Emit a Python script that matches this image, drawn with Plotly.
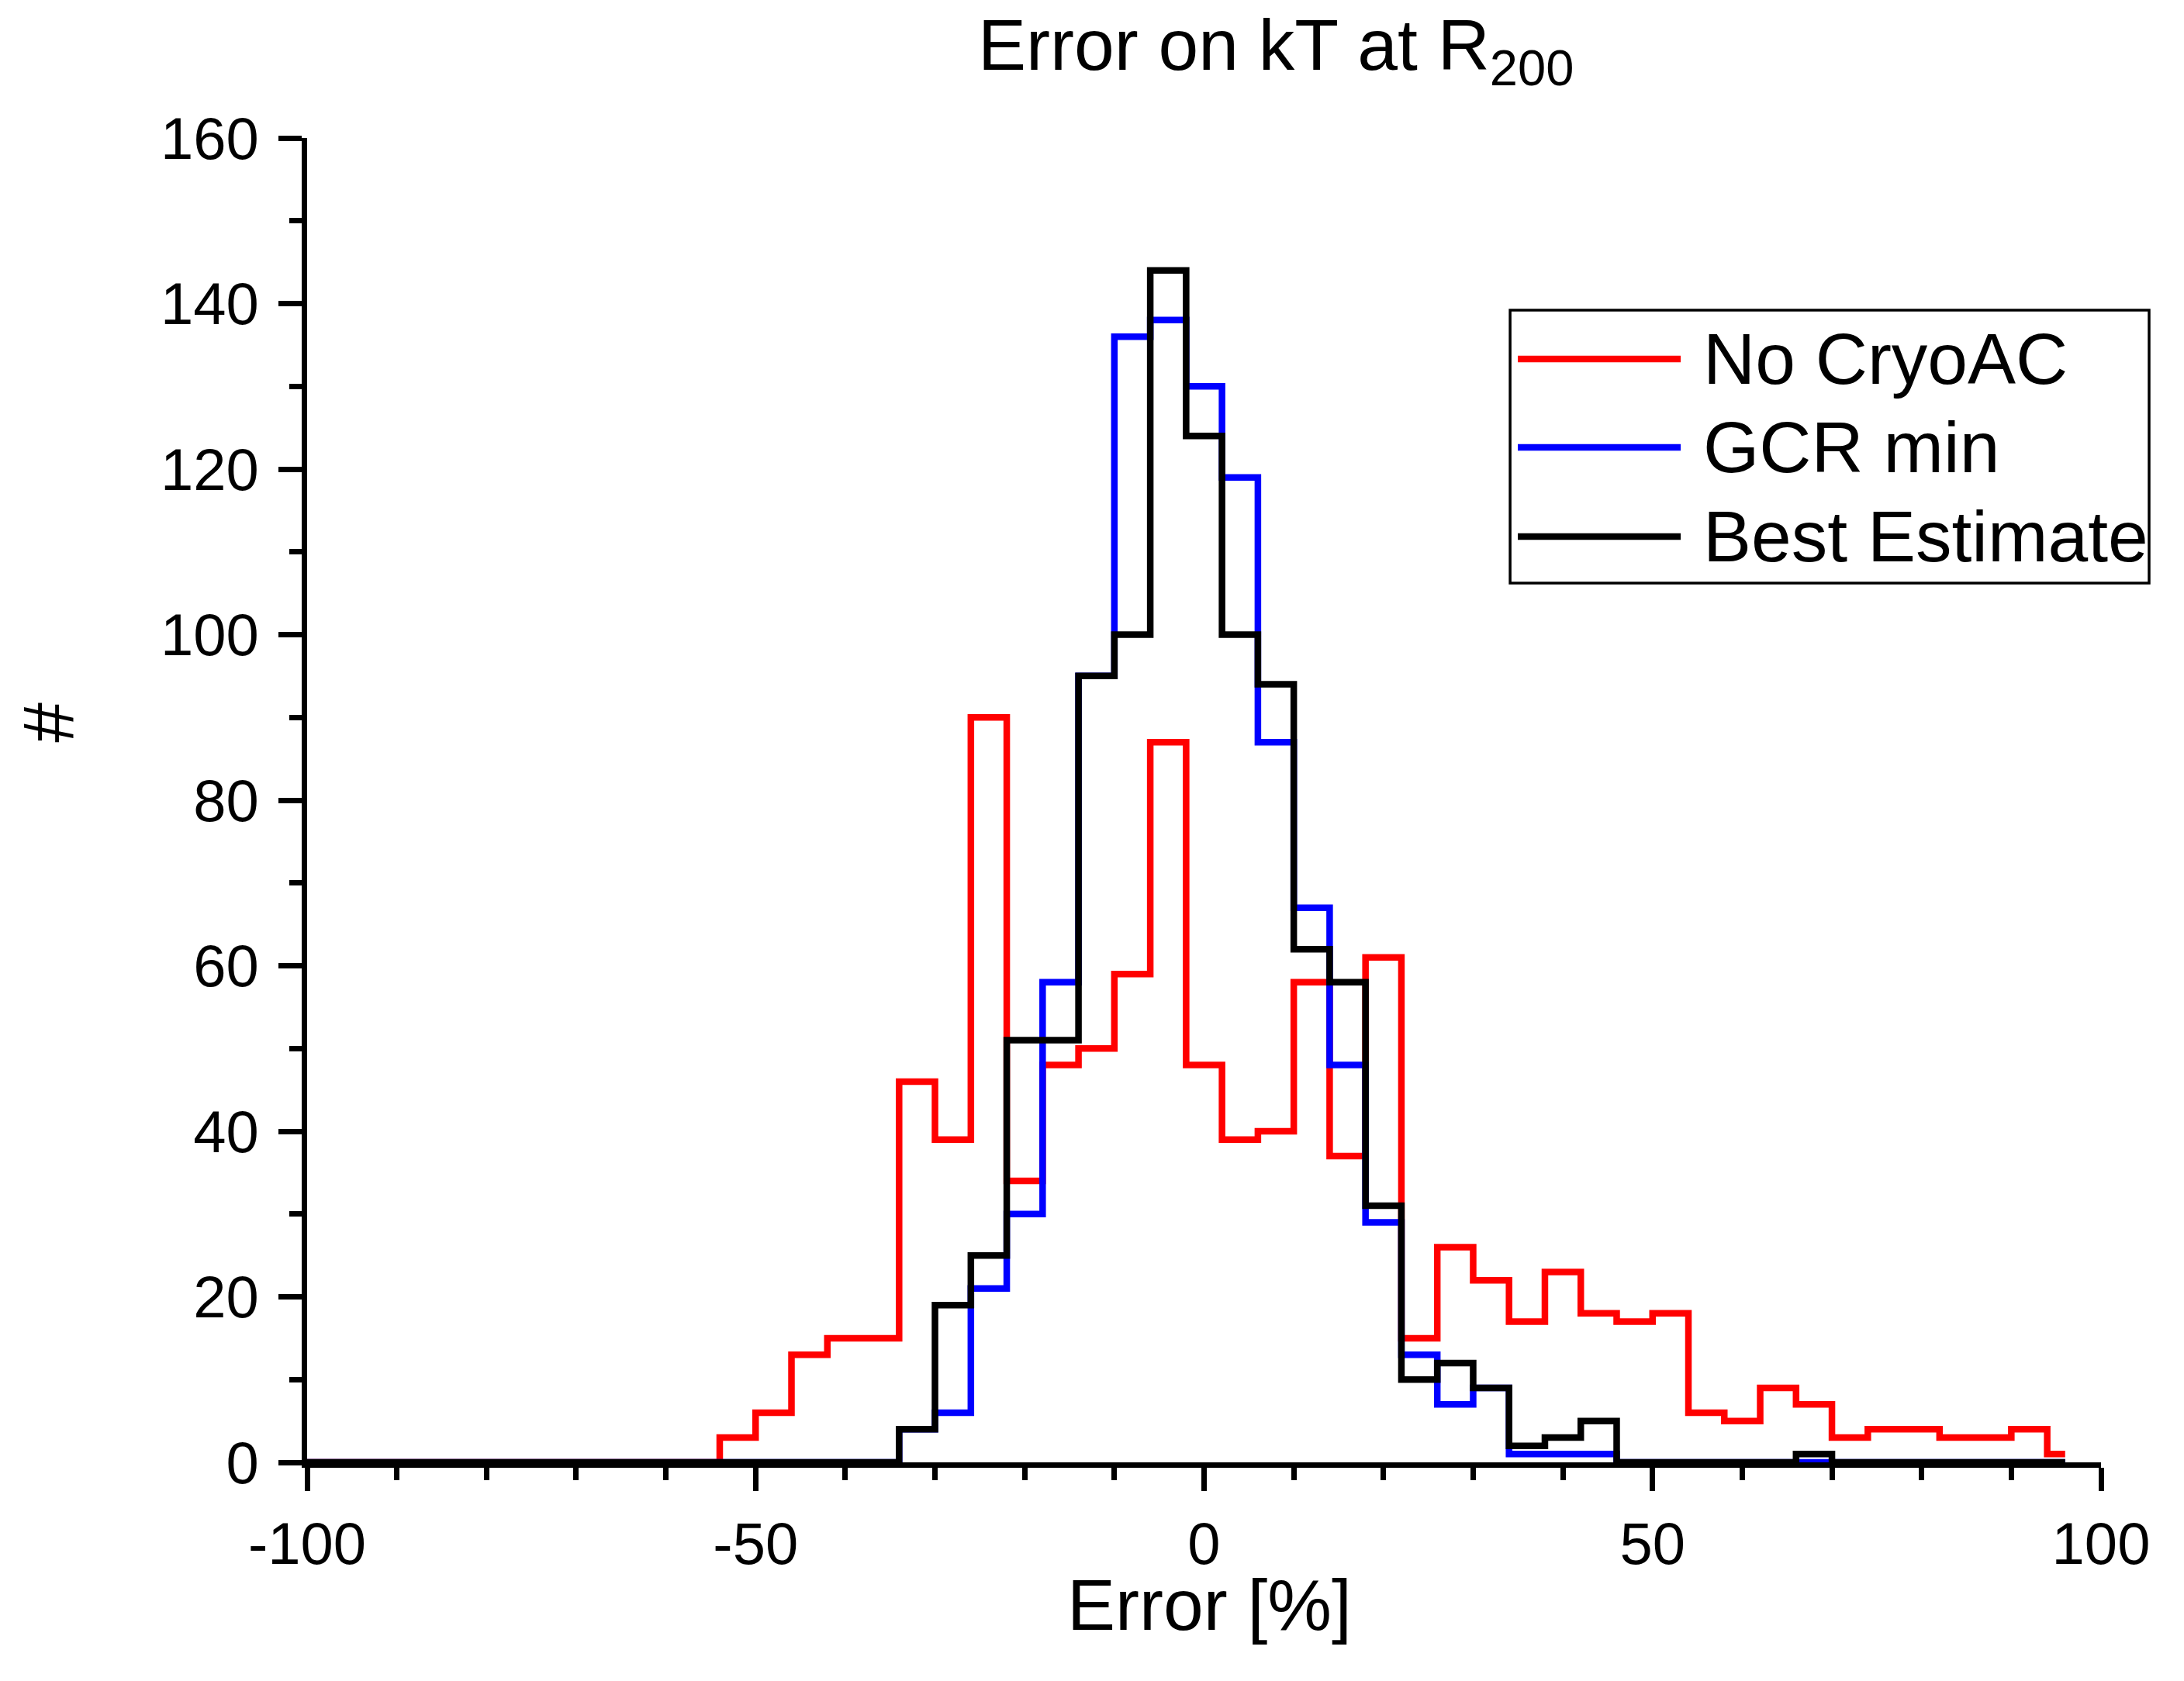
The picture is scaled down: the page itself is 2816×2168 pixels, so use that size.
import plotly.graph_objects as go

# histogram bin centres (bin width 4 %)
centres = list(range(-100, 100, 4))

# counts per bin
no_cryoac = [0] * 12 + [3, 6, 13, 15, 15, 46, 39, 90, 34, 48, 50, 59, 87, 48, 39, 40,
                        58, 37, 61, 15, 26, 22, 17, 23, 18, 17, 18, 6, 5, 9, 7, 3,
                        4, 4, 3, 3, 4, 1]
gcr_min = [0] * 17 + [4, 6, 21, 30, 58, 95, 136, 138, 130, 119, 87, 67, 48, 29, 13, 7,
                      9, 1, 1, 1] + [0] * 13
best_estimate = [0] * 17 + [4, 19, 25, 51, 51, 95, 100, 144, 124, 100, 94, 62, 58, 31, 10, 12,
                            9, 2, 3, 5] + [0] * 5 + [1] + [0] * 7

x_ticks = [-100, -50, 0, 50, 100]
x_labels = ['-100', '-50', '0', '50', '100']

series = [('No CryoAC', no_cryoac, '#ff0000'),
          ('GCR min', gcr_min, '#0000ff'),
          ('Best Estimate', best_estimate, '#000000')]

FONT = 'Arial, Liberation Sans, sans-serif'
LW = 8.5

fig = go.Figure()
for name, counts, col in series:
    fig.add_trace(go.Scatter(x = centres, y = counts, name = name, mode = 'lines',
                             line = dict(color = col, width = LW, shape = 'hvh'),
                             showlegend = False))

axis_common = dict(showgrid = False, zeroline = False, showline = True,
                   linecolor = 'black', linewidth = 7, ticks = 'outside',
                   ticklen = 30, tickwidth = 7, tickcolor = 'black',
                   tickfont = dict(family = FONT, size = 76, color = 'black'),
                   minor = dict(ticklen = 16, tickwidth = 7, ticks = 'outside', tickcolor = 'black'))

fig.update_layout(
    width = 2816, height = 2168,
    margin = dict(l = 388, r = 115, t = 170, b = 290),
    paper_bgcolor = 'white', plot_bgcolor = 'white',
    xaxis = dict(range = [-100, 100], tickmode = 'array', tickvals = x_ticks, ticktext = x_labels,
                 ticklabelstandoff = 3, **axis_common),
    yaxis = dict(range = [0, 160], dtick = 20, tick0 = 0, ticklabelstandoff = 10, **axis_common),
)
fig.update_xaxes(minor_dtick = 10, minor_tick0 = 0)
fig.update_yaxes(minor_dtick = 10, minor_tick0 = 0)

# titles
fig.add_annotation(text = 'Error on kT at R<sub>200</sub>', xref = 'paper', yref = 'paper',
                   x = 0.540, y = 1.066, xanchor = 'center', yanchor = 'middle', showarrow = False,
                   font = dict(family = FONT, size = 93, color = 'black'))
fig.add_annotation(text = 'Error [%]', xref = 'paper', yref = 'paper',
                   x = 0.503, y = -0.1077, xanchor = 'center', yanchor = 'middle', showarrow = False,
                   font = dict(family = FONT, size = 93, color = 'black'))
fig.add_annotation(text = '#', xref = 'paper', yref = 'paper', textangle = -90,
                   x = -0.144, y = 0.5586, xanchor = 'center', yanchor = 'middle', showarrow = False,
                   font = dict(family = FONT, size = 93, color = 'black'))

# legend box drawn by hand (long line samples like the original)
fig.add_shape(type = 'rect', xref = 'paper', yref = 'paper', x0 = 0.6706, x1 = 1.0268, y0 = 0.664, y1 = 0.870,
              line = dict(color = 'black', width = 3.5), fillcolor = 'white', layer = 'above')
rows = [0.8331, 0.7664, 0.6991]
for (name, counts, col), ry in zip(series, rows):
    fig.add_shape(type = 'line', xref = 'paper', yref = 'paper', x0 = 0.6749, x1 = 0.7657, y0 = ry, y1 = ry,
                  line = dict(color = col, width = LW), layer = 'above')
    fig.add_annotation(text = name, xref = 'paper', yref = 'paper', x = 0.7773, y = ry,
                       xanchor = 'left', yanchor = 'middle', showarrow = False,
                       font = dict(family = FONT, size = 93, color = 'black'))

fig.write_html('out.html')
